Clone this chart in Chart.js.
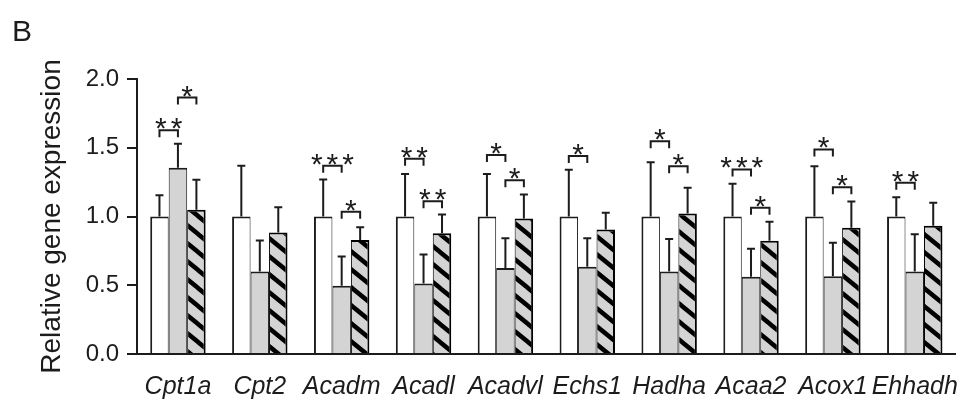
<!DOCTYPE html>
<html>
<head>
<meta charset="utf-8">
<script src="https://cdn.jsdelivr.net/npm/chart.js@4.4.1/dist/chart.umd.min.js"></script>
<style>
html,body{margin:0;padding:0;background:#fff;}
#wrap{width:968px;height:399px;}
</style>
</head>
<body>
<div id="wrap"><canvas id="c" width="968" height="399"></canvas></div>
<script>
// ---- data ----
const categories = ['Cpt1a','Cpt2','Acadm','Acadl','Acadvl','Echs1','Hadha','Acaa2','Acox1','Ehhadh'];
const controlValues = [1.0, 1.0, 1.0, 1.0, 1.0, 1.0, 1.0, 1.0, 1.0, 1.0];
const controlErr    = [0.155, 0.37, 0.27, 0.31, 0.31, 0.34, 0.395, 0.238, 0.366, 0.14];
const grayValues    = [1.355, 0.60, 0.497, 0.512, 0.626, 0.634, 0.60, 0.561, 0.565, 0.60];
const grayErr       = [0.175, 0.225, 0.213, 0.211, 0.216, 0.208, 0.237, 0.204, 0.245, 0.271];
const hatchValues   = [1.049, 0.883, 0.83, 0.878, 0.985, 0.905, 1.022, 0.823, 0.918, 0.932];
const hatchErr      = [0.219, 0.185, 0.092, 0.137, 0.175, 0.122, 0.187, 0.138, 0.191, 0.168];
const yTickValues   = [0, 0.5, 1.0, 1.5, 2.0];

// significance brackets: category index, from series, to series, height, label
const sigCategory = [0, 0, 2, 2, 3, 3, 4, 4, 5, 6, 6, 7, 7, 8, 8, 9];
const sigFrom     = [0, 1, 0, 1, 0, 1, 0, 1, 0, 0, 1, 0, 1, 0, 1, 0];
const sigTo       = [1, 2, 1, 2, 1, 2, 1, 2, 1, 1, 2, 1, 2, 1, 2, 1];
const sigHeight   = [1.628, 1.865, 1.37, 1.034, 1.42, 1.111, 1.447, 1.264, 1.44, 1.548, 1.366, 1.342, 1.063, 1.488, 1.213, 1.245];
const sigLabel    = ['**', '*', '***', '*', '**', '**', '*', '*', '*', '*', '*', '***', '*', '*', '*', '**'];

const panelLabel = 'B';
const yTitle = 'Relative gene expression';

// ---- styling ----
const INK = '#1c1c1c';
const FONT = '"Liberation Sans", Arial, sans-serif';

function makeHatch() {
  const W = 22, H = 18;
  const c = document.createElement('canvas');
  c.width = W; c.height = H;
  const g = c.getContext('2d');
  g.fillStyle = '#d4d4d4';
  g.fillRect(0, 0, W, H);
  g.strokeStyle = '#000';
  g.lineWidth = 4.5;
  g.beginPath();
  for (let k = -1; k <= 1; k++) {
    g.moveTo(k * W - 2, -2 * H / W);
    g.lineTo(k * W + W + 2, H + 2 * H / W);
  }
  g.stroke();
  return document.getElementById('c').getContext('2d').createPattern(c, 'repeat');
}

const seriesValues = [controlValues, grayValues, hatchValues];
const seriesErr = [controlErr, grayErr, hatchErr];

const overlay = {
  id: 'overlay',
  afterDatasetsDraw(chart) {
    const ctx = chart.ctx;
    const y = chart.scales.y;
    ctx.save();
    ctx.strokeStyle = INK;
    ctx.fillStyle = INK;
    ctx.lineWidth = 2;
    ctx.lineCap = 'butt';
    // error bars (upper only)
    seriesErr.forEach((errs, d) => {
      const meta = chart.getDatasetMeta(d);
      meta.data.forEach((bar, i) => {
        const v = seriesValues[d][i];
        const top = y.getPixelForValue(v + errs[i]);
        const base = y.getPixelForValue(v);
        ctx.beginPath();
        ctx.moveTo(bar.x, base);
        ctx.lineTo(bar.x, top);
        ctx.moveTo(bar.x - 4, top);
        ctx.lineTo(bar.x + 4, top);
        ctx.stroke();
      });
    });
    // significance brackets
    ctx.font = '30px ' + FONT;
    ctx.textAlign = 'center';
    ctx.textBaseline = 'alphabetic';
    const spacing = 4;
    if ('letterSpacing' in ctx) ctx.letterSpacing = spacing + 'px';
    sigCategory.forEach((c, k) => {
      const x1 = chart.getDatasetMeta(sigFrom[k]).data[c].x;
      const x2 = chart.getDatasetMeta(sigTo[k]).data[c].x;
      const yy = y.getPixelForValue(sigHeight[k]);
      ctx.beginPath();
      ctx.moveTo(x1, yy + 7);
      ctx.lineTo(x1, yy);
      ctx.lineTo(x2, yy);
      ctx.lineTo(x2, yy + 7);
      ctx.stroke();
      ctx.fillText(sigLabel[k], (x1 + x2) / 2 + spacing / 2, yy + 8);
    });
    if ('letterSpacing' in ctx) ctx.letterSpacing = '0px';
    // panel label
    ctx.font = '30px ' + FONT;
    ctx.textAlign = 'left';
    ctx.textBaseline = 'alphabetic';
    ctx.fillText(panelLabel, 12, 41);
    ctx.restore();
  }
};

const chart = new Chart(document.getElementById('c'), {
  type: 'bar',
  data: {
    labels: categories,
    datasets: [
      { data: controlValues, backgroundColor: '#ffffff', borderColor: INK,
        borderWidth: {top: 2, left: 2, right: 1, bottom: 0}, borderSkipped: false },
      { data: grayValues, backgroundColor: '#d4d4d4', borderColor: INK,
        borderWidth: {top: 2, left: 1, right: 1, bottom: 0}, borderSkipped: false },
      { data: hatchValues, backgroundColor: makeHatch(), borderColor: '#000',
        borderWidth: {top: 2, left: 1, right: 2, bottom: 0}, borderSkipped: false }
    ]
  },
  options: {
    responsive: false,
    devicePixelRatio: 1,
    animation: false,
    layout: { padding: { top: 79, right: 3, bottom: 0, left: 0 } },
    datasets: { bar: { categoryPercentage: 0.677, barPercentage: 1.0 } },
    plugins: { legend: { display: false }, tooltip: { enabled: false }, title: { display: false } },
    scales: {
      x: {
        grid: { display: false },
        border: { display: true, color: INK, width: 2 },
        ticks: { color: INK, padding: 10, maxRotation: 0, minRotation: 0, autoSkip: false,
                 font: { family: FONT, size: 25, style: 'italic' } },
        afterFit(s) { s.height = 45; }
      },
      y: {
        min: 0, max: 2,
        afterBuildTicks(s) { s.ticks = yTickValues.map(v => ({ value: v })); },
        grid: { drawOnChartArea: false, drawTicks: true, tickLength: 10, color: INK, lineWidth: 2 },
        border: { display: true, color: INK, width: 2 },
        ticks: { color: INK, padding: 8, font: { family: FONT, size: 24 },
                 callback: v => Number(v).toFixed(1) },
        title: { display: true, text: yTitle, color: INK, font: { family: FONT, size: 28 },
                 padding: { top: 35, bottom: 0 } },
        afterFit(s) { s.width = 137; }
      }
    }
  },
  plugins: [overlay]
});
</script>
</body>
</html>
